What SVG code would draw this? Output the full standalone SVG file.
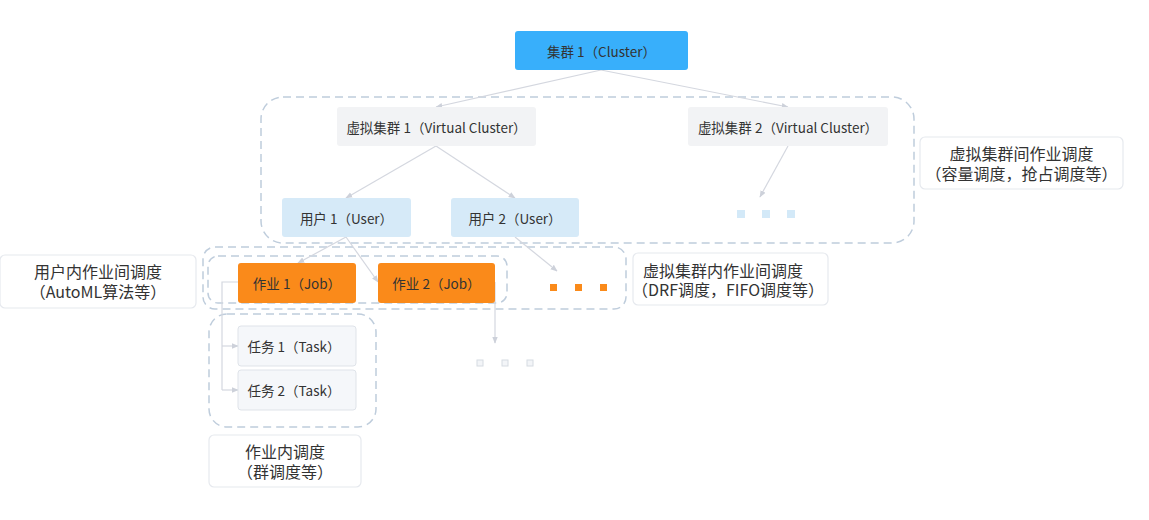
<svg xmlns="http://www.w3.org/2000/svg" width="1149" height="520" viewBox="0 0 1149 520">
  <style>
    text { font-family: "Noto Sans CJK SC", "Noto Sans", sans-serif; fill: #333333; }
    .n { font-size: 13.5px; text-anchor: middle; dominant-baseline: central; }
    .a { font-size: 16px; text-anchor: middle; }
    .dash { fill: none; stroke: #BFCDDC; stroke-width: 1.5; stroke-dasharray: 8 5; }
    .conn { fill: none; stroke: #D4D7DF; stroke-width: 1.2; }
    .ann { fill: #FFFFFF; stroke: #E6E9EE; stroke-width: 1.2; }
    .vc { fill: #F2F3F5; }
    .user { fill: #D6EAF8; }
    .job { fill: #FA8A1A; }
    .task { fill: #F5F7FA; stroke: #DFE3E9; stroke-width: 1; }
  </style>
  <defs>
    <marker id="arr" viewBox="0 0 10 10" refX="9" refY="5" markerWidth="7" markerHeight="7" orient="auto" markerUnits="userSpaceOnUse">
      <path d="M0,1 L10,5 L0,9 Z" fill="#CDD1DA"/>
    </marker>
  </defs>

  <!-- dashed regions -->
  <g id="regions">
    <rect class="dash" x="261" y="97" width="653" height="146" rx="22"/>
    <rect class="dash" x="203" y="247" width="423" height="62" rx="12"/>
    <rect class="dash" x="208" y="256" width="299" height="47" rx="10"/>
    <rect class="dash" x="209" y="314" width="167" height="113" rx="18"/>
  </g>

  <g id="connectors">
    <line class="conn" x1="601" y1="70" x2="436" y2="107" marker-end="url(#arr)"/>
    <line class="conn" x1="601" y1="70" x2="788" y2="107" marker-end="url(#arr)"/>
    <line class="conn" x1="436" y1="146" x2="346" y2="198" marker-end="url(#arr)"/>
    <line class="conn" x1="436" y1="146" x2="515" y2="198" marker-end="url(#arr)"/>
    <line class="conn" x1="788" y1="146" x2="760" y2="197" marker-end="url(#arr)"/>
    <line class="conn" x1="346" y1="237" x2="298" y2="263" marker-end="url(#arr)"/>
    <line class="conn" x1="346" y1="237" x2="378" y2="282" marker-end="url(#arr)"/>
    <line class="conn" x1="515" y1="237" x2="557" y2="271" marker-end="url(#arr)"/>
    <polyline class="conn" points="238,282 222,282 222,390"/>
    <line class="conn" x1="222" y1="346" x2="238" y2="346" marker-end="url(#arr)"/>
    <line class="conn" x1="222" y1="390" x2="238" y2="390" marker-end="url(#arr)"/>
    <line class="conn" x1="495" y1="282" x2="495" y2="343" marker-end="url(#arr)"/>
  </g>

  <g id="cluster">
    <rect x="515" y="31" width="173" height="39" rx="3" fill="#38AFFB"/>
    <text class="n" x="601.5" y="50.5">集群 1（Cluster）</text>
  </g>
  <g id="vc1">
    <rect class="vc" x="337" y="107" width="199" height="39" rx="3"/>
    <text class="n" x="436.5" y="126.5">虚拟集群 1（Virtual Cluster）</text>
  </g>
  <g id="vc2">
    <rect class="vc" x="688" y="107" width="200" height="39" rx="3"/>
    <text class="n" x="788" y="126.5">虚拟集群 2（Virtual Cluster）</text>
  </g>
  <g id="user1">
    <rect class="user" x="282" y="198" width="129" height="39" rx="3"/>
    <text class="n" x="346.5" y="217.5">用户 1（User）</text>
  </g>
  <g id="user2">
    <rect class="user" x="451" y="198" width="128" height="39" rx="3"/>
    <text class="n" x="515" y="217.5">用户 2（User）</text>
  </g>
  <g id="vc-more">
    <rect x="737" y="210" width="8" height="8" fill="#D3E9F8"/>
    <rect x="762" y="210" width="8" height="8" fill="#D3E9F8"/>
    <rect x="787" y="210" width="8" height="8" fill="#D3E9F8"/>
  </g>
  <g id="job1">
    <rect class="job" x="238" y="263" width="118" height="40" rx="3"/>
    <text class="n" x="297" y="283">作业 1（Job）</text>
  </g>
  <g id="job2">
    <rect class="job" x="378" y="263" width="117" height="40" rx="3"/>
    <text class="n" x="436.5" y="283">作业 2（Job）</text>
  </g>
  <g id="job-more">
    <rect x="550" y="284" width="7" height="7" fill="#FA8A1A"/>
    <rect x="575" y="284" width="7" height="7" fill="#FA8A1A"/>
    <rect x="600" y="284" width="7" height="7" fill="#FA8A1A"/>
  </g>
  <g id="task1">
    <rect class="task" x="238" y="326" width="118" height="40" rx="3"/>
    <text class="n" x="294" y="346">任务 1（Task）</text>
  </g>
  <g id="task2">
    <rect class="task" x="238" y="370" width="118" height="40" rx="3"/>
    <text class="n" x="294" y="390">任务 2（Task）</text>
  </g>
  <g id="task-more">
    <rect x="477" y="360" width="6" height="6" fill="#F3F5F8" stroke="#D6DBE2" stroke-width="1"/>
    <rect x="502" y="360" width="6" height="6" fill="#F3F5F8" stroke="#D6DBE2" stroke-width="1"/>
    <rect x="527" y="360" width="6" height="6" fill="#F3F5F8" stroke="#D6DBE2" stroke-width="1"/>
  </g>

  <g id="label-vc-between">
    <rect class="ann" x="920" y="137" width="203" height="52" rx="5"/>
    <text class="a" x="1021.5" y="160">虚拟集群间作业调度</text>
    <text class="a" x="1021.5" y="180">（容量调度，抢占调度等）</text>
  </g>
  <g id="label-vc-inner">
    <rect class="ann" x="633" y="253" width="195" height="52" rx="5"/>
    <text class="a" x="723" y="277">虚拟集群内作业间调度</text>
    <text class="a" x="728" y="296">（DRF调度，FIFO调度等）</text>
  </g>
  <g id="label-user-inner">
    <rect class="ann" x="0" y="255" width="196" height="53" rx="5"/>
    <text class="a" x="98" y="278">用户内作业间调度</text>
    <text class="a" x="98" y="298">（AutoML算法等）</text>
  </g>
  <g id="label-job-inner">
    <rect class="ann" x="209" y="435" width="152" height="52" rx="5"/>
    <text class="a" x="285" y="458">作业内调度</text>
    <text class="a" x="285" y="478">（群调度等）</text>
  </g>
</svg>
